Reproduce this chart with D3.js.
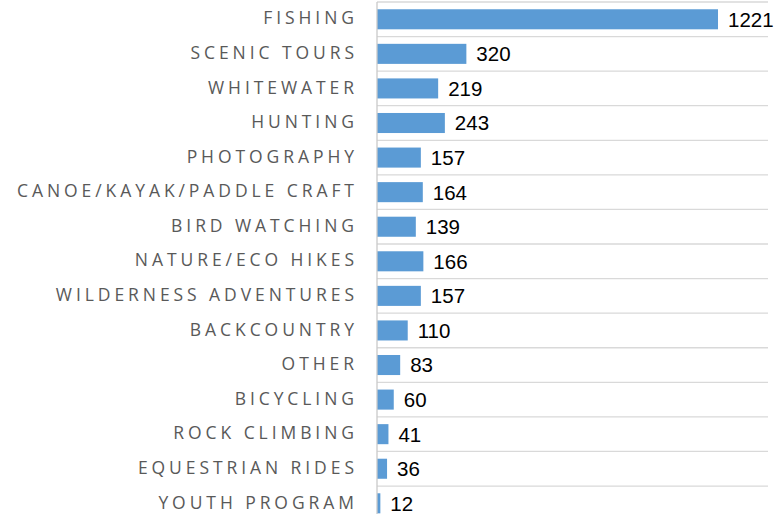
<!DOCTYPE html>
<html>
<head>
<meta charset="utf-8">
<script src="https://cdn.jsdelivr.net/npm/d3@7/dist/d3.min.js"></script>
<style>
  html, body { margin: 0; padding: 0; background: #fff; }
  svg { display: block; }
</style>
</head>
<body>
<svg id="chart" width="776" height="514"></svg>
<script>
const categories = [
  "FISHING", "SCENIC TOURS", "WHITEWATER", "HUNTING", "PHOTOGRAPHY",
  "CANOE/KAYAK/PADDLE CRAFT", "BIRD WATCHING", "NATURE/ECO HIKES",
  "WILDERNESS ADVENTURES", "BACKCOUNTRY", "OTHER", "BICYCLING",
  "ROCK CLIMBING", "EQUESTRIAN RIDES", "YOUTH PROGRAM"
];
const values = [1221, 320, 219, 243, 157, 164, 139, 166, 157, 110, 83, 60, 41, 36, 12];
const xDomain = [0, 1400];

const svg = d3.select("#chart");
const x = d3.scaleLinear().domain(xDomain).range([377, 768]);
const y = d3.scaleBand().domain(categories).range([2, 520.6]).paddingInner(0.42).paddingOuter(0.21);
const step = y.step();
const bandStart = c => y(c) - y.paddingInner() * step / 2;

// separator gridlines at band boundaries
const bounds = categories.map(c => bandStart(c));
svg.append("g").selectAll("line").data(bounds).join("line")
  .attr("x1", x(0)).attr("x2", x(xDomain[1]))
  .attr("y1", d => d).attr("y2", d => d)
  .attr("stroke", "#D9D9D9").attr("stroke-width", 1.3);

// bars
svg.append("g").selectAll("rect").data(categories).join("rect")
  .attr("x", x(0))
  .attr("y", d => y(d))
  .attr("width", (d, i) => x(values[i]) - x(0))
  .attr("height", y.bandwidth())
  .attr("fill", "#5B9BD5");

// axis line
svg.append("line")
  .attr("x1", x(0)).attr("x2", x(0))
  .attr("y1", 2).attr("y2", 514)
  .attr("stroke", "#C9C9C9").attr("stroke-width", 1.3);

// value labels
svg.append("g").selectAll("text").data(categories).join("text")
  .attr("x", (d, i) => x(values[i]) + 10)
  .attr("y", d => y(d) + y.bandwidth() / 2 + 2)
  .attr("dominant-baseline", "middle")
  .attr("font-family", "Liberation Sans, Arial, sans-serif")
  .attr("font-size", 20.5)
  .attr("fill", "#000")
  .text((d, i) => values[i]);

// category labels
const labels = svg.append("g").selectAll("text").data(categories).join("text")
  .attr("y", d => y(d) + y.bandwidth() / 2 + 0.5)
  .attr("dominant-baseline", "middle")
  .attr("text-anchor", "end")
  .attr("font-family", "Open Sans, sans-serif")
  .attr("font-size", 17.5)
  .attr("fill", "#595959")
  .text(d => d);

// letter spacing fitted so the longest label spans its reference width
const longest = categories.reduce((a, b) => a.length >= b.length ? a : b);
const probe = labels.filter(d => d === longest).node();
const natural = probe.getComputedTextLength();
const ls = Math.max(0, (337 - natural) / (longest.length - 1));
labels.attr("letter-spacing", ls).attr("x", 354 + ls);
</script>
</body>
</html>
